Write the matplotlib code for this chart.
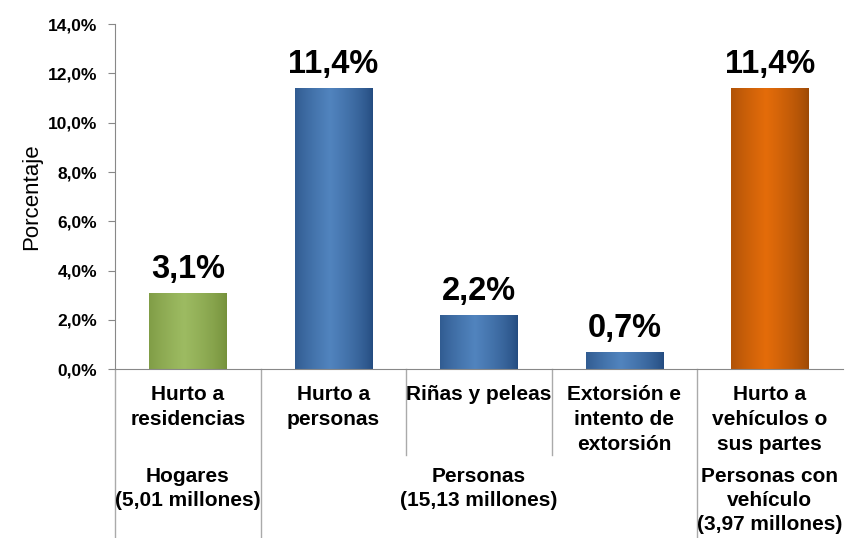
import numpy as np
import matplotlib
matplotlib.use("Agg")
import matplotlib.pyplot as plt
from matplotlib.colors import LinearSegmentedColormap
from matplotlib.ticker import FuncFormatter

plt.rcParams['font.family'] = ['Liberation Sans', 'DejaVu Sans']

# data
categories = ["Hurto a\nresidencias", "Hurto a\npersonas", "Riñas y peleas",
              "Extorsión e\nintento de\nextorsión", "Hurto a\nvehículos o\nsus partes"]
values = [3.1, 11.4, 2.2, 0.7, 11.4]
value_labels = ["3,1%", "11,4%", "2,2%", "0,7%", "11,4%"]
groups = ["Hogares\n(5,01 millones)", "Personas\n(15,13 millones)",
          "Personas con\nvehículo\n(3,97 millones)"]
group_spans = [(0, 0), (1, 3), (4, 4)]

# (edge colour, centre colour) for each bar
bar_colors = [("#74903a", "#9dbb62"), ("#234a7e", "#5184be"), ("#234a7e", "#5184be"),
              ("#234a7e", "#5184be"), ("#9a4806", "#e46c0a")]

fig = plt.figure(figsize=(8.46, 5.38), dpi=100)
ax = fig.add_axes([0.136, 0.314, 0.860, 0.641])

x = np.arange(len(values))
width = 0.53
bars = ax.bar(x, values, width=width, color="none", edgecolor="none", zorder=2)

# fake cylinder shading: horizontal gradient clipped to each bar
grad = np.linspace(0, 1, 256)
profile = 1 - np.abs(grad - 0.45) / 0.55
profile = np.clip(profile, 0, 1) ** 0.7
for b, (dark, light) in zip(bars, bar_colors):
    cmap = LinearSegmentedColormap.from_list("c", [dark, light])
    x0, y0 = b.get_x(), b.get_y()
    im = ax.imshow(profile[np.newaxis, :], cmap=cmap, aspect="auto",
                   extent=[x0, x0 + b.get_width(), y0, y0 + b.get_height()],
                   vmin=0, vmax=1, zorder=2)
    im.set_clip_path(b)

for xi, v, lab in zip(x, values, value_labels):
    ax.annotate(lab, (xi, v), xytext=(0, 17), textcoords="offset points",
                ha="center", va="center", fontsize=23.5, fontweight="bold")

ax.set_xlim(-0.5, len(values) - 0.5)
ax.set_ylim(0, 14)
ax.set_yticks(np.arange(0, 15, 2))
ax.yaxis.set_major_formatter(FuncFormatter(lambda v, p: f"{v:.1f}%".replace(".", ",")))
ax.tick_params(axis="y", labelsize=12.5, length=5, color="#888888", pad=8)
for t in ax.get_yticklabels():
    t.set_fontweight("bold")
ax.set_xticks([])
ax.set_ylabel("Porcentaje", fontsize=16, labelpad=4)

for s in ["top", "right"]:
    ax.spines[s].set_visible(False)
ax.spines["left"].set_color("#888888")
ax.spines["bottom"].set_color("#888888")

trans = ax.get_xaxis_transform()
# category labels
for xi, cat in zip(x, categories):
    ax.text(xi, -0.045, cat, transform=trans, ha="center", va="top",
            fontsize=15, fontweight="bold", linespacing=1.4)

# group labels
for (a, b), g in zip(group_spans, groups):
    ax.text((a + b) / 2, -0.285, g, transform=trans, ha="center", va="top",
            fontsize=15, fontweight="bold", linespacing=1.32)

# separator lines under the axis
full = [-0.5, 0.5, 3.5]
partial = [1.5, 2.5]
for xs in full:
    ax.plot([xs, xs], [0, -0.53], transform=trans, color="#aaaaaa", lw=1, clip_on=False)
for xs in partial:
    ax.plot([xs, xs], [0, -0.25], transform=trans, color="#aaaaaa", lw=1, clip_on=False)

fig.savefig("out.png", dpi=100)
